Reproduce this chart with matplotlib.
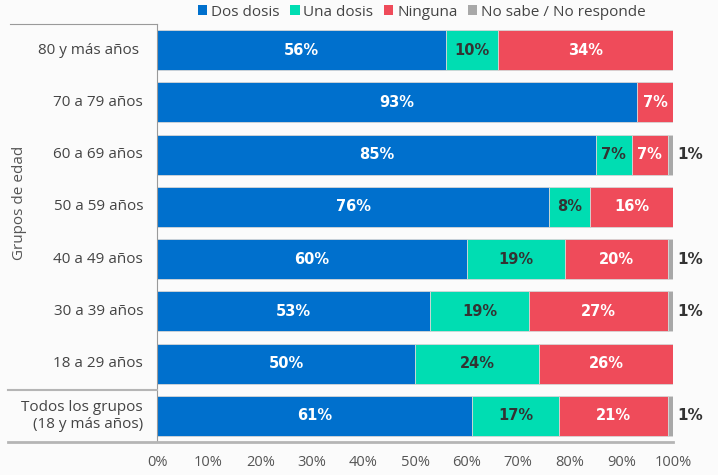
import matplotlib.pyplot as plt
from matplotlib.patches import Patch
from matplotlib.lines import Line2D

plt.rcParams['font.family'] = ['Open Sans', 'DejaVu Sans']

# data (percent)
grupos = ['80 y más años ', '70 a 79 años', '60 a 69 años', '50 a 59 años',
          '40 a 49 años', '30 a 39 años', '18 a 29 años',
          'Todos los grupos\n(18 y más años)']
dos_dosis = [56, 93, 85, 76, 60, 53, 50, 61]
una_dosis = [10, 0, 7, 8, 19, 19, 24, 17]
ninguna = [34, 7, 7, 16, 20, 27, 26, 21]
no_sabe = [0, 0, 1, 0, 1, 1, 0, 1]

series = ['Dos dosis', 'Una dosis', 'Ninguna', 'No sabe / No responde']
colores = ['#0070CD', '#00DDB2', '#EF4B5A', '#A8A8A8']
txt_col = ['white', '#333333', 'white', '#333333']
ticks = [0, 10, 20, 30, 40, 50, 60, 70, 80, 90, 100]

fig = plt.figure(figsize=(7.18, 4.75), dpi=100, facecolor='#fbfbfb')
W, H = 718, 475
ax = fig.add_axes([157 / W, 1 - 442 / H, (673 - 157) / W, (442 - 24) / H])
ax.set_facecolor('#fbfbfb')

ypos = list(range(len(grupos)))
left = [0] * len(grupos)
for vals, col, tc in zip([dos_dosis, una_dosis, ninguna, no_sabe], colores, txt_col):
    ax.barh(ypos, vals, left=left, height=0.77, color=col,
            edgecolor='#d6d6d6', linewidth=0.6)
    for i, v in enumerate(vals):
        if v == 0:
            continue
        if col == '#A8A8A8':
            ax.text(103.3, i, f'{v}%', ha='center', va='center', family='DejaVu Sans',
                    fontsize=11, fontweight='bold', color='#333333', clip_on=False)
        else:
            ax.text(left[i] + v / 2, i, f'{v}%', ha='center', va='center',
                    family='DejaVu Sans', fontsize=10.5, fontweight='bold', color=tc)
    left = [a + b for a, b in zip(left, vals)]

ax.set_xlim(0, 100)
ax.set_ylim(len(grupos) - 0.5, -0.5)
ax.set_xticks(ticks)
ax.set_xticklabels([f'{t}%' for t in ticks], fontsize=10.5, color='#555555')
ax.tick_params(axis='x', length=0, pad=9)
ax.set_yticks([])
for s in ['top', 'right', 'bottom']:
    ax.spines[s].set_visible(False)
ax.spines['left'].set_color('#9a9a9a')
ax.spines['left'].set_linewidth(0.8)

# category labels
for i, g in enumerate(grupos):
    ax.text(-2.7, i, g, ha='right', va='center', fontsize=11,
            color='#444444', multialignment='right', clip_on=False)

# frame lines around the label column
gray = '#b5b5b5'
fig.add_artist(Line2D([10 / W, 157 / W], [1 - 24 / H] * 2, color='#9a9a9a', lw=0.8))
fig.add_artist(Line2D([8 / W, 157 / W], [1 - 390 / H] * 2, color=gray, lw=1.5))
fig.add_artist(Line2D([8 / W, 673 / W], [1 - 442 / H] * 2, color=gray, lw=2))

fig.text(20 / W, 1 - 203 / H, 'Grupos de edad', rotation=90, ha='center',
         va='center', fontsize=11, color='#555555')

handles = [Patch(facecolor=c, edgecolor='none') for c in colores]
fig.legend(handles, series, loc='center', bbox_to_anchor=(422 / W, 1 - 12 / H),
           ncol=4, frameon=False, fontsize=11, handlelength=0.6, handleheight=0.6,
           handletextpad=0.25, columnspacing=0.7, labelcolor='#444444')

fig.savefig('out.png', dpi=100, facecolor=fig.get_facecolor())
